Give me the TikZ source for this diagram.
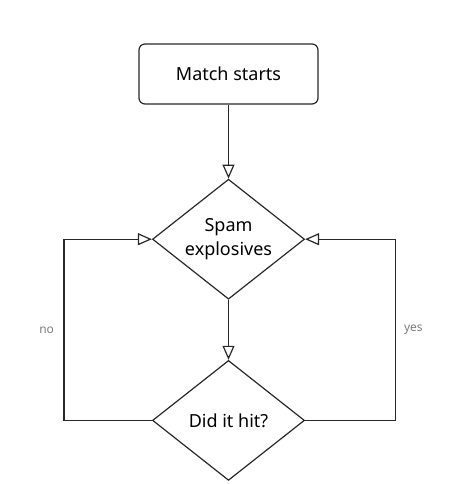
\documentclass[tikz,border=0pt]{standalone}
\usepackage{fontspec}
\setmainfont{Noto Sans}
\usetikzlibrary{positioning, arrows.meta, shapes.geometric}
\definecolor{linecolor}{RGB}{40, 40, 40}
\definecolor{labelcolor}{RGB}{125, 125, 125}

\begin{document}
\begin{tikzpicture}[
    x=1pt, y=1pt,
    startbox/.style={rectangle, rounded corners=6pt, draw=linecolor, line width=1.2pt, minimum width=179pt, minimum height=60pt, align=center, font=\fontsize{18}{21}\selectfont},
    decision/.style={diamond, draw=linecolor, line width=1.2pt, minimum width=152pt, minimum height=120pt, aspect=1.27, inner sep=0pt, align=center, font=\fontsize{18}{24}\selectfont},
    arrow/.style={-{Triangle[open, length=14pt, width=12pt]}, draw=linecolor, line width=1.2pt},
    branch/.style={font=\fontsize{12}{14}\selectfont, text=labelcolor},
]

% Canvas
\useasboundingbox (0,0) rectangle (474,-484);

% Start box
\node[startbox] (start) at (228.5,-74) {Match starts};

% Decisions
\node[decision, below=74pt of start] (spam) {Spam\\explosives};
\node[decision, below=60pt of spam] (hit) {Did it hit?};

% Arrows
\draw[arrow] (start) -- (spam);
\draw[arrow] (spam) -- (hit);

% Loops back
\draw[arrow] (hit.west) -- ++(-88,0) |- node[pos=0.25, left=6pt, branch] {no} (spam.west);
\draw[arrow] (hit.east) -- ++(90,0) |- node[pos=0.25, right=5pt, branch] {yes} (spam.east);

\end{tikzpicture}
\end{document}
